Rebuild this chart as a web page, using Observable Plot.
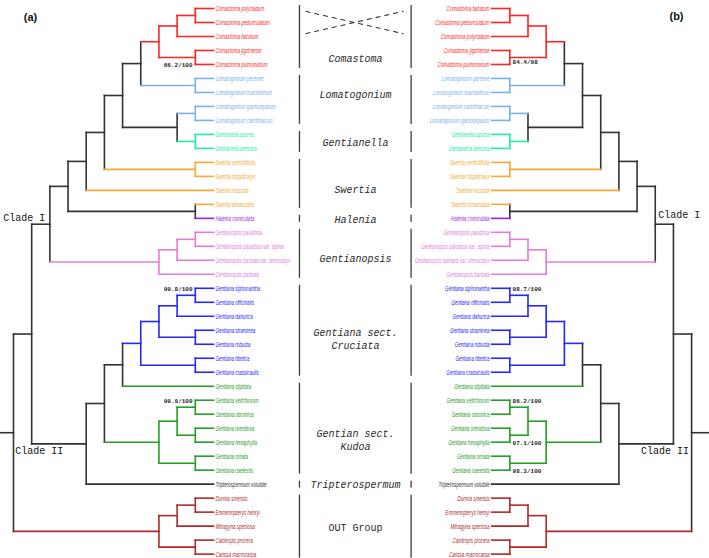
<!DOCTYPE html>
<html><head><meta charset="utf-8">
<script src="https://cdn.jsdelivr.net/npm/d3@7"></script>
<script src="https://cdn.jsdelivr.net/npm/@observablehq/plot@0.6"></script>
<style>body{margin:0;background:#fff}#chart{width:709px;height:558px}</style>
</head><body><div id="chart"></div>
<script>
// ---------- data: clades (topology) ----------
const comastomaLeft  = [[["Comastoma polycladum","Comastoma pedunculatum"],"Comastoma falcatum"],["Comastoma jigzhiense","Comastoma pulmonarium"]];
const comastomaRight = [[["Comastoma falcatum","Comastoma pedunculatum"],"Comastoma polycladum"],["Comastoma jigzhiense","Comastoma pulmonarium"]];
const lomatogoniumA = ["Lomatogonium perenne","Lomatogonium macranthum"];
const lomatogoniumBLeft  = ["Lomatogonium gamosepalum","Lomatogonium carinthiacum"];
const lomatogoniumBRight = ["Lomatogonium carinthiacum","Lomatogonium gamosepalum"];
const gentianella = ["Gentianella azurea","Gentianella arenaria"];
const swertiaPair = ["Swertia verticillifolia","Swertia hispidicalyx"];
const swertiaMussotii = "Swertia mussotii";
const swertiaHalenia = ["Swertia bimaculata","Halenia corniculata"];
const gentianopsis = [[["Gentianopsis paludosa","Gentianopsis paludosa var. alpina"],"Gentianopsis barbata var. stenocalyx"],"Gentianopsis barbata"];
const cruciata = [[[["Gentiana siphonantha","Gentiana officinalis"],"Gentiana dahurica"],["Gentiana straminea","Gentiana robusta"]],["Gentiana tibetica","Gentiana crassicaulis"]];
const stipitata = "Gentiana stipitata";
const kudoa = [[["Gentiana veitchiorum","Gentiana obconica"],["Gentiana oreodoxa","Gentiana hexaphylla"]],["Gentiana ornata","Gentiana caelestis"]];
const tripterospermum = "Tripterospermum volubile";
const outgroup = [[["Dunnia sinensis","Emmenopterys henryi"],"Mitragyna speciosa"],["Calotropis procera","Carissa macrocarpa"]];

// ---------- data: groups ----------
const groupNames = ["Comastoma","Lomatogonium","Gentianella","Swertia","Halenia","Gentianopsis","Gentiana sect.\nCruciata","Gentian sect.\nKudoa","Tripterospermum","OUT Group"];
const groupColors = ["#ff2424","#78b2ee","#22ecb0","#f6a934","#9c1ef0","#e47cdc","#2626ff","#23a023","#333333","#b02a2a"];
const groupTaxa = [
  ["Comastoma polycladum","Comastoma pedunculatum","Comastoma falcatum","Comastoma jigzhiense","Comastoma pulmonarium"],
  ["Lomatogonium perenne","Lomatogonium macranthum","Lomatogonium gamosepalum","Lomatogonium carinthiacum"],
  ["Gentianella azurea","Gentianella arenaria"],
  ["Swertia verticillifolia","Swertia hispidicalyx","Swertia mussotii","Swertia bimaculata"],
  ["Halenia corniculata"],
  ["Gentianopsis paludosa","Gentianopsis paludosa var. alpina","Gentianopsis barbata var. stenocalyx","Gentianopsis barbata"],
  ["Gentiana siphonantha","Gentiana officinalis","Gentiana dahurica","Gentiana straminea","Gentiana robusta","Gentiana tibetica","Gentiana crassicaulis"],
  ["Gentiana stipitata","Gentiana veitchiorum","Gentiana obconica","Gentiana oreodoxa","Gentiana hexaphylla","Gentiana ornata","Gentiana caelestis"],
  ["Tripterospermum volubile"],
  ["Dunnia sinensis","Emmenopterys henryi","Mitragyna speciosa","Calotropis procera","Carissa macrocarpa"]
];
// support values: [taxon below/at the node, label]
const supportLeft  = [["Comastoma pulmonarium","66.2/100"],["Gentiana siphonantha","99.8/100"],["Gentiana veitchiorum","99.9/100"]];
const supportRight = [["Comastoma pulmonarium","84.4/98"],["Gentiana siphonantha","98.7/100"],["Gentiana veitchiorum","86.2/100"],["Gentiana hexaphylla","97.1/100"],["Gentiana caelestis","98.3/100"]];
const crossedTaxa = ["Comastoma polycladum","Comastoma falcatum"];
const cladeLabels = ["Clade I","Clade II"];
const panelLabels = ["(a)","(b)"];

// ---------- layout ----------
const backbone = "#333333";
const R = 37.3;                     // right tree root position (level units)
const BAR_L = 15.73, BAR_R = 21.87, MID = 18.81;
const labelNudge = [1.5,-0.4,0.05,0.4,0,0.3,0.55,0.8,0,0.1];
const groupOf = new Map();
groupTaxa.forEach((l,i)=>l.forEach(t=>groupOf.set(t,i)));

function buildTree(comastoma, lomB) {
  const n142 = [comastoma, lomatogoniumA];
  const n177 = [lomB, gentianella];
  const n123 = [n142, n177];
  const n105 = [n123, swertiaPair];
  const n87  = [n105, swertiaMussotii];
  const n68  = [n87, swertiaHalenia];
  const cladeI = [n68, gentianopsis];
  const cladeII = [[[cruciata, stipitata], kudoa], tripterospermum];
  return {tree: [[cladeI, cladeII], outgroup], cladeI, cladeII};
}

function layout(spec, mirror) {
  const tips = [], hs = [], vs = [], pos = new Map();
  let idx = 0;
  function walk(n) {
    if (typeof n === "string") {
      const r = {y: idx++, h: 0, groups: new Set([groupOf.get(n)]), name: n};
      tips.push(r); pos.set(n, r); return r;
    }
    const kids = n.map(walk);
    const r = {y: (kids[0].y + kids[kids.length-1].y)/2, h: 1 + d3.max(kids, k=>k.h),
               groups: new Set(kids.flatMap(k=>[...k.groups])), kids};
    kids.forEach(k=>k.parent = r);
    pos.set(n, r); return r;
  }
  const root = walk(spec.tree);
  const H = root.h;
  const X = lv => mirror ? R - lv : lv;
  const col = r => r.groups.size === 1 ? groupColors[[...r.groups][0]] : backbone;
  (function emit(r) {
    r.x = X(H - r.h);
    if (!r.kids) return;
    r.kids.forEach(k => { hs.push({x1: X(H - r.h), x2: X(H - k.h), y: k.y, c: col(k)}); emit(k); });
    vs.push({x: X(H - r.h), y1: r.kids[0].y, y2: r.kids[r.kids.length-1].y, c: col(r)});
  })(root);
  hs.push({x1: X(-1), x2: X(0), y: root.y, c: backbone});
  tips.forEach(t => { t.c = col(t); t.lx = X(H + 0.11); });
  return {tips, hs, vs, pos, root, X, H, cI: pos.get(spec.cladeI), cII: pos.get(spec.cladeII)};
}

const L = layout(buildTree(comastomaLeft, lomatogoniumBLeft), false);
const Rt = layout(buildTree(comastomaRight, lomatogoniumBRight), true);

function groupBars(T, x) {
  return groupTaxa.map((list, i) => {
    const ys = list.map(t => T.pos.get(t).y);
    return {x, y1: d3.min(ys) - 0.5 + 0.25, y2: d3.max(ys) + 0.5 - 0.25, i, mid: (d3.min(ys)+d3.max(ys))/2};
  });
}
const barsL = groupBars(L, BAR_L), barsR = groupBars(Rt, BAR_R);
const groupLabelData = barsL.map(b => ({name: groupNames[b.i], y: b.mid + labelNudge[b.i], italic: b.i !== 9}));

function supports(T, list, mirror) {
  return list.map(([t, v]) => { const p = T.pos.get(t).parent; const s = T.pos.get(t);
    return {x: p.x + (mirror ? 0.15 : -0.15), y: s.y + (mirror && s.y < 5 ? -0.15 : 0.05), v}; });
}
const cross = crossedTaxa.map(t => {
  const a = L.pos.get(t).y, b = Rt.pos.get(t).y;
  return {y1: a + Math.sign(b - a) * 0.2, y2: b - Math.sign(b - a) * 0.2};
});

const PX = 18.18, PY = 13.99;
const seg = (data) => [
  Plot.link(data.vs, {x1: "x", x2: "x", y1: "y1", y2: "y2", stroke: "c", strokeWidth: 1.6, strokeLinecap: "square"}),
  Plot.link(data.hs, {x1: "x1", x2: "x2", y1: "y", y2: "y", stroke: "c", strokeWidth: 1.6, strokeLinecap: "square"})
];
const taxonFont = "Liberation Sans, Arial, sans-serif";
const monoFont = "Liberation Mono, Courier New, monospace";

const chart = Plot.plot({
  width: 709, height: 558, margin: 0,
  x: {domain: [-13/PX, -13/PX + 709/PX], range: [0, 709], axis: null},
  y: {domain: [-8/PY, -8/PY + 558/PY], range: [0, 558], axis: null},
  color: {type: "identity"},
  marks: [
    ...seg(L), ...seg(Rt),
    Plot.text(L.tips, {x: "lx", y: "y", text: "name", fill: "c", textAnchor: "start", fontSize: 8, fontStyle: "italic", fontFamily: taxonFont}),
    Plot.text(Rt.tips, {x: "lx", y: "y", text: "name", fill: "c", textAnchor: "end", fontSize: 8, fontStyle: "italic", fontFamily: taxonFont}),
    Plot.text(supports(L, supportLeft, false), {x: "x", y: "y", text: "v", textAnchor: "end", fontSize: 6, fontWeight: "bold", fontFamily: monoFont, fill: "#222"}),
    Plot.text(supports(Rt, supportRight, true), {x: "x", y: "y", text: "v", textAnchor: "start", fontSize: 6, fontWeight: "bold", fontFamily: monoFont, fill: "#222"}),
    Plot.link([...barsL, ...barsR], {x1: "x", x2: "x", y1: "y1", y2: "y2", stroke: "#3c3c3c", strokeWidth: 1.3}),
    Plot.link(cross, {x1: () => 16.06, x2: () => 21.45, y1: "y1", y2: "y2", stroke: "#333", strokeWidth: 1.1, strokeDasharray: "5,4"}),
    Plot.text(groupLabelData.filter(d => d.italic), {x: () => MID, y: "y", text: "name", fontSize: 11.5, fontStyle: "italic", fontFamily: monoFont, fill: "#2a2a2a", lineHeight: 1.15}),
    Plot.text(groupLabelData.filter(d => !d.italic), {x: () => MID, y: "y", text: "name", fontSize: 11.5, fontFamily: monoFont, fill: "#2a2a2a"}),
    Plot.text([{x: L.cI.x - 0.25, y: L.cI.y}], {x: "x", y: "y", text: () => cladeLabels[0], textAnchor: "end", lineAnchor: "bottom", dy: -3, fontSize: 11.5, fontFamily: monoFont, fill: "#111"}),
    Plot.text([{x: Rt.cI.x + 0.17, y: Rt.cI.y}], {x: "x", y: "y", text: () => cladeLabels[0], textAnchor: "start", lineAnchor: "bottom", dy: -6, fontSize: 11.5, fontFamily: monoFont, fill: "#111"}),
    Plot.text([{x: L.X(0.1), y: L.cII.y}], {x: "x", y: "y", text: () => cladeLabels[1], textAnchor: "start", lineAnchor: "top", dy: 2, fontSize: 11.5, fontFamily: monoFont, fill: "#111"}),
    Plot.text([{x: Rt.X(0.15), y: Rt.cII.y}], {x: "x", y: "y", text: () => cladeLabels[1], textAnchor: "end", lineAnchor: "top", dy: 2, fontSize: 11.5, fontFamily: monoFont, fill: "#111"}),
    Plot.text([panelLabels[0]], {frameAnchor: "top-left", textAnchor: "middle", lineAnchor: "middle", dx: 30, dy: 17, fontSize: 11, fontWeight: "bold", fontFamily: "Liberation Sans, Arial, sans-serif", fill: "#111"}),
    Plot.text([panelLabels[1]], {frameAnchor: "top-right", textAnchor: "middle", lineAnchor: "middle", dx: -33, dy: 16, fontSize: 11, fontWeight: "bold", fontFamily: "Liberation Sans, Arial, sans-serif", fill: "#111"})
  ]
});
document.getElementById("chart").append(chart);

// horizontal condensation of texts (condensed faces are not installed):
// append a scale after Plot's own translate so the anchor point stays put
const taxonSet = new Set(groupTaxa.flat());
const monoSet = new Set([...groupNames.map(s => s.replace("\n", "")), ...cladeLabels]);
function squeeze(t, s) {
  const tr = t.getAttribute("transform");
  if (!tr) return;
  t.setAttribute("transform", `${tr} scale(${s},1)`);
}
chart.querySelectorAll("text").forEach(t => {
  const s = t.textContent;
  if (taxonSet.has(s)) squeeze(t, 0.57);
  else if (monoSet.has(s)) squeeze(t, 0.87);
});
</script>
</body></html>
